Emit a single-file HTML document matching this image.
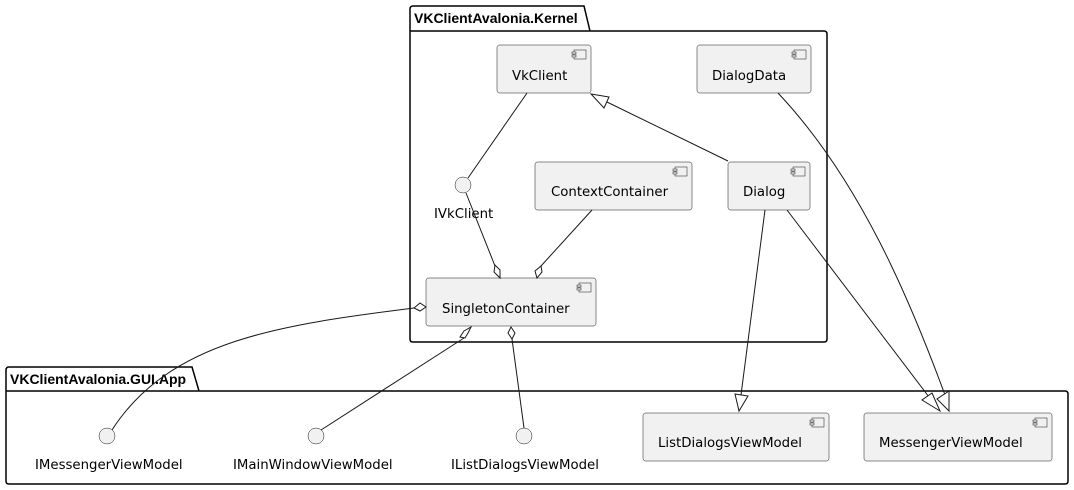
<!DOCTYPE html>
<html><head><meta charset="utf-8"><style>
html,body{margin:0;padding:0;background:#fff;width:1074px;height:490px;overflow:hidden}
svg{display:block}
text{font-family:"DejaVu Sans","Liberation Sans",sans-serif;font-size:13.3px;fill:#000}
.b{font-family:"Liberation Sans",sans-serif;font-weight:bold;font-size:14px}
.c{fill:#f1f1f1;stroke:#181818;stroke-width:0.5}
.l{fill:none;stroke:#181818;stroke-width:1}
.h{fill:#fff;stroke:#181818;stroke-width:1}
.p{fill:none;stroke:#000;stroke-width:1.5}
</style></head><body>
<svg width="1074" height="490" viewBox="0 0 1074 490" xmlns="http://www.w3.org/2000/svg">
<defs>
<g id="ic"><rect x="0" y="0" width="12" height="9" class="c"/><rect x="-2" y="2" width="4" height="2" class="c"/><rect x="-2" y="5" width="4" height="2" class="c"/></g>
</defs>
<!-- Kernel package -->
<path class="p" d="M410,31 V9 Q410,6 413,6 H584 L590,31 H824 Q827,31 827,34 V339 Q827,342 824,342 H413 Q410,342 410,339 Z M410,31 H590"/>
<text class="b" x="414" y="23">VKClientAvalonia.Kernel</text>
<!-- GUI package -->
<path class="p" d="M6,391 V370 Q6,367 9,367 H192 L199,391 H1065 Q1068,391 1068,394 V481 Q1068,484 1065,484 H9 Q6,484 6,481 Z M6,391 H199"/>
<text class="b" x="10" y="384">VKClientAvalonia.GUI.App</text>

<!-- components -->
<rect class="c" x="497" y="45" width="94" height="48" rx="2.5"/><use href="#ic" x="574" y="50"/><text x="512" y="80">VkClient</text>
<rect class="c" x="697" y="45" width="114" height="48" rx="2.5"/><use href="#ic" x="794" y="50"/><text x="712" y="80">DialogData</text>
<rect class="c" x="535" y="162" width="157" height="48" rx="2.5"/><use href="#ic" x="675" y="167"/><text x="551" y="196">ContextContainer</text>
<rect class="c" x="728" y="162" width="82" height="48" rx="2.5"/><use href="#ic" x="793" y="167"/><text x="743" y="196">Dialog</text>
<rect class="c" x="426" y="278" width="170" height="48" rx="2.5"/><use href="#ic" x="579" y="283"/><text x="442" y="313">SingletonContainer</text>
<rect class="c" x="643" y="413" width="186" height="48" rx="2.5"/><use href="#ic" x="812" y="418"/><text x="658" y="447">ListDialogsViewModel</text>
<rect class="c" x="864" y="413" width="188" height="48" rx="2.5"/><use href="#ic" x="1035" y="418"/><text x="879" y="447">MessengerViewModel</text>

<!-- interfaces -->
<circle class="c" cx="463" cy="185" r="8"/><text x="434" y="218">IVkClient</text>
<circle class="c" cx="107" cy="436" r="8"/><text x="35" y="469">IMessengerViewModel</text>
<circle class="c" cx="316" cy="436" r="8"/><text x="233" y="469">IMainWindowViewModel</text>
<circle class="c" cx="524" cy="436" r="8"/><text x="451" y="469">IListDialogsViewModel</text>

<!-- connectors -->
<path class="l" d="M527,93 L468,178"/>
<path class="l" d="M466,193 L495,266"/>
<path class="h" d="M500,278 L494,272 L495,265 L500,270 Z"/>
<path class="l" d="M592,210 L541,266"/>
<path class="h" d="M537,278 L535,271 L541,266 L542,272 Z"/>
<path class="l" d="M728,161 L607,102"/>
<path class="h" d="M591,94 L609,97 L604,108 Z"/>
<path class="l" d="M765,210 L741,395"/>
<path class="h" d="M739,411 L735,394 L748,396 Z"/>
<path class="l" d="M787,210 L929,397"/>
<path class="h" d="M940,411 L922,400 L932,393 Z"/>
<path class="l" d="M778,93 C860,180 910,300 945,395"/>
<path class="h" d="M949,411 L937,399 L949,391 Z"/>
<path class="l" d="M414,308 C280,325 170,340 112,430"/>
<path class="h" d="M426,307 L420,311 L414,308 L420,303 Z"/>
<path class="l" d="M464,338 L321,430"/>
<path class="h" d="M471,327 L468,333 L465,338 L460,337 L464,331 Z"/>
<path class="l" d="M512,339 L524,428"/>
<path class="h" d="M511,327 L515,333 L512,339 L508,333 Z"/>
</svg>
</body></html>
